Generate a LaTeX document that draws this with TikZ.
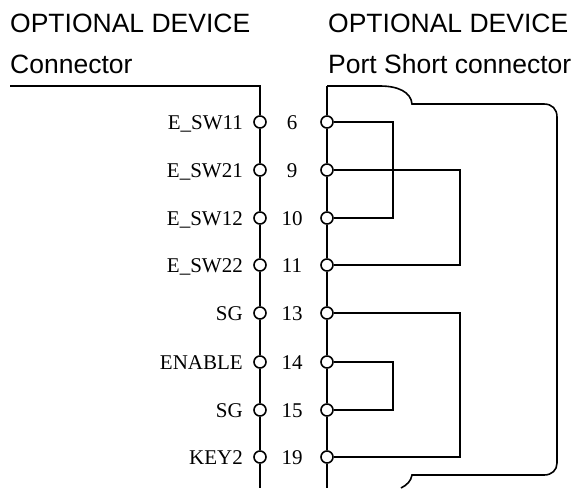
\documentclass[tikz,border=0pt]{standalone}
\usepackage{fontspec}
\setmainfont{Liberation Serif}
\setsansfont{Liberation Sans}
\tikzset{
	pin/.style={circle,draw,fill=white,inner sep=0pt,minimum size=12pt,line width=1.6pt},
	wire/.style={line width=1.6pt},
	title/.style={font=\fontsize{26.5}{30}\selectfont\sffamily,anchor=base west,inner sep=0pt},
	signal/.style={font=\fontsize{21}{24}\selectfont,anchor=base east,inner sep=0pt},
	number/.style={font=\fontsize{21}{24}\selectfont,anchor=base,inner sep=0pt},
}
\begin{document}
\begin{tikzpicture}[x=1pt,y=-1pt]
	\useasboundingbox (0,0) rectangle (573,488);
	\def\xl{260}
	\def\xr{327}

	% TITLES
	\node[title] (title1) at (10,32) {OPTIONAL DEVICE};
	\node[title] (title2) at (10,73) {Connector};
	\node[title] (title3) at (328,32) {OPTIONAL DEVICE};
	\node[title] (title4) at (328,73) {Port Short connector};

	% PINS
	\foreach \n/\y/\s in {6/122/E\_SW11,9/170/E\_SW21,10/218/E\_SW12,11/265/E\_SW22,13/313/SG,14/362/ENABLE,15/410/SG,19/457/KEY2} {
		\node[pin] (l\n) at (\xl,\y) {};
		\node[pin] (r\n) at (\xr,\y) {};
		\node[signal] (s\n) at (243,\y+7) {\s};
		\node[number] (n\n) at (292,\y+7) {\n};
	}

	% TRUNKS
	\coordinate (ltop) at (10,86);
	\coordinate (lcorner) at (\xl,86);
	\coordinate (lend) at (\xl,488);
	\coordinate (rtop) at (\xr,86);
	\coordinate (rend) at (\xr,488);
	\draw[wire] (ltop) -- (lcorner) -- (l6) -- (l9) -- (l10) -- (l11) -- (l13) -- (l14) -- (l15) -- (l19) -- (lend);
	\draw[wire] (rtop) -- (r6) -- (r9) -- (r10) -- (r11) -- (r13) -- (r14) -- (r15) -- (r19) -- (rend);

	% SHELL
	\draw[wire] (rtop) -- (380,86) .. controls (398,86) and (411,92) .. (412,104)
		-- (544,104) .. controls (552,104) and (557,109) .. (557,117)
		-- (557,463) .. controls (557,470) and (552,475) .. (544,475)
		-- (412,475) .. controls (411,481) and (407,485) .. (401,488);

	% JUMPERS
	\coordinate (j1) at (393,170);
	\coordinate (j2) at (460,218);
	\coordinate (j3) at (460,362);
	\coordinate (j4) at (393,386);
	\draw[wire] (r6) -| (j1) |- (r10);
	\draw[wire] (r9) -| (j2) |- (r11);
	\draw[wire] (r13) -| (j3) |- (r19);
	\draw[wire] (r14) -| (j4) |- (r15);
\end{tikzpicture}
\end{document}
